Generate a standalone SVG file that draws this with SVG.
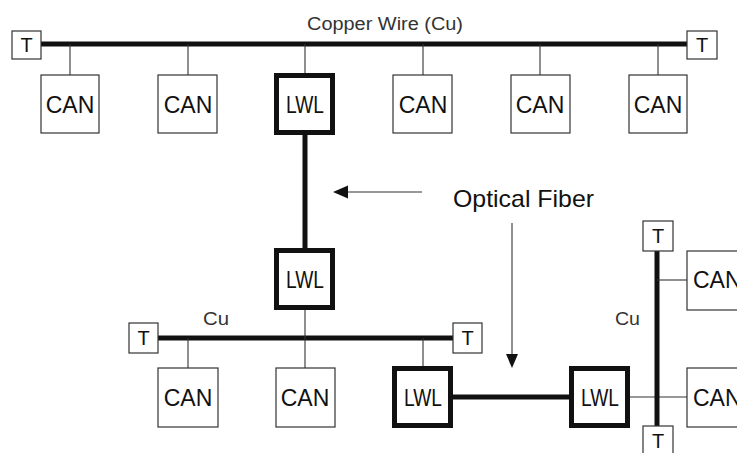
<svg xmlns="http://www.w3.org/2000/svg" width="737" height="453" viewBox="0 0 737 453">
<style>
.can{fill:#fff;stroke:#333;stroke-width:1.2}
.lwl{fill:#fff;stroke:#111;stroke-width:5}
.t{fill:#fff;stroke:#333;stroke-width:1.2}
.bus{stroke:#111;stroke-width:5;fill:none}
.thin{stroke:#333;stroke-width:1.1;fill:none}
text{font-family:"Liberation Sans",Arial,sans-serif;fill:#111}
.lbl{font-size:23px;text-anchor:middle}
.tt{font-size:20px;text-anchor:middle}
.cap{font-size:18px;fill:#333}
</style>
<rect width="737" height="453" fill="#fff"/>
<g id="connectors">
<line class="bus" x1="41" y1="44" x2="687" y2="44"/>
<line class="thin" x1="70" y1="44" x2="70" y2="75"/>
<line class="thin" x1="188" y1="44" x2="188" y2="75"/>
<line class="thin" x1="305" y1="44" x2="305" y2="73"/>
<line class="thin" x1="423" y1="44" x2="423" y2="75"/>
<line class="thin" x1="540" y1="44" x2="540" y2="75"/>
<line class="thin" x1="658" y1="44" x2="658" y2="75"/>
<line class="bus" x1="305" y1="135" x2="305" y2="248"/>
<line class="bus" x1="158" y1="338" x2="453" y2="338"/>
<line class="thin" x1="188" y1="338" x2="188" y2="368"/>
<line class="thin" x1="305" y1="310" x2="305" y2="368"/>
<line class="thin" x1="423" y1="338" x2="423" y2="366"/>
<line class="bus" x1="453" y1="397" x2="569" y2="397"/>
<line class="thin" x1="630" y1="397" x2="687" y2="397"/>
<line class="bus" x1="657" y1="251" x2="657" y2="426"/>
<line class="thin" x1="657" y1="280" x2="687" y2="280"/>
<line class="thin" x1="345" y1="192" x2="422" y2="192"/>
<polygon points="333,192 348,185.5 348,198.5" fill="#111"/>
<line class="thin" x1="512" y1="223" x2="512" y2="356"/>
<polygon points="506,354 518,354 512,368" fill="#111"/>
</g>
<g id="labels">
<text class="cap" x="307" y="30" textLength="156" lengthAdjust="spacingAndGlyphs">Copper Wire (Cu)</text>
<text x="453" y="207" font-size="24" textLength="141" lengthAdjust="spacingAndGlyphs">Optical Fiber</text>
<text class="cap" x="203" y="325" textLength="26" lengthAdjust="spacingAndGlyphs">Cu</text>
<text class="cap" x="615" y="325" textLength="25" lengthAdjust="spacingAndGlyphs">Cu</text>
</g>
<g id="t1"><rect class="t" x="12" y="31" width="29" height="28"/><text class="tt" x="26.5" y="52">T</text></g>
<g id="t2"><rect class="t" x="687" y="31" width="30" height="28"/><text class="tt" x="702" y="52">T</text></g>
<g id="can1"><rect class="can" x="41" y="75" width="58" height="58"/><text class="lbl" x="70" y="113">CAN</text></g>
<g id="can2"><rect class="can" x="158" y="75" width="59" height="58"/><text class="lbl" x="188" y="113">CAN</text></g>
<g id="lwl1"><rect class="lwl" x="276.5" y="75.5" width="56" height="57"/><text class="lbl" x="305" y="113" textLength="38" lengthAdjust="spacingAndGlyphs">LWL</text></g>
<g id="can3"><rect class="can" x="393" y="75" width="59" height="58"/><text class="lbl" x="423" y="113">CAN</text></g>
<g id="can4"><rect class="can" x="511" y="75" width="59" height="58"/><text class="lbl" x="540" y="113">CAN</text></g>
<g id="can5"><rect class="can" x="629" y="75" width="58" height="58"/><text class="lbl" x="658" y="113">CAN</text></g>
<g id="lwl2"><rect class="lwl" x="276.5" y="250.5" width="56" height="57"/><text class="lbl" x="305" y="288" textLength="38" lengthAdjust="spacingAndGlyphs">LWL</text></g>
<g id="t3"><rect class="t" x="129" y="323" width="29" height="30"/><text class="tt" x="143.5" y="345">T</text></g>
<g id="t4"><rect class="t" x="453" y="323" width="29" height="30"/><text class="tt" x="467.5" y="345">T</text></g>
<g id="can6"><rect class="can" x="158" y="368" width="60" height="59"/><text class="lbl" x="188" y="406">CAN</text></g>
<g id="can7"><rect class="can" x="276" y="368" width="59" height="59"/><text class="lbl" x="305" y="406">CAN</text></g>
<g id="lwl3"><rect class="lwl" x="394.5" y="368.5" width="56" height="57"/><text class="lbl" x="423" y="406" textLength="38" lengthAdjust="spacingAndGlyphs">LWL</text></g>
<g id="lwl4"><rect class="lwl" x="571.5" y="368.5" width="56" height="57"/><text class="lbl" x="600" y="406" textLength="38" lengthAdjust="spacingAndGlyphs">LWL</text></g>
<g id="t5"><rect class="t" x="643" y="221" width="30" height="30"/><text class="tt" x="658" y="243">T</text></g>
<g id="t6"><rect class="t" x="643" y="426" width="30" height="30"/><text class="tt" x="658" y="448">T</text></g>
<g id="can8"><rect class="can" x="687" y="251" width="70" height="59"/><text class="lbl" x="693" y="288" style="text-anchor:start">CAN</text></g>
<g id="can9"><rect class="can" x="687" y="368" width="70" height="59"/><text class="lbl" x="693" y="406" style="text-anchor:start">CAN</text></g>
</svg>
